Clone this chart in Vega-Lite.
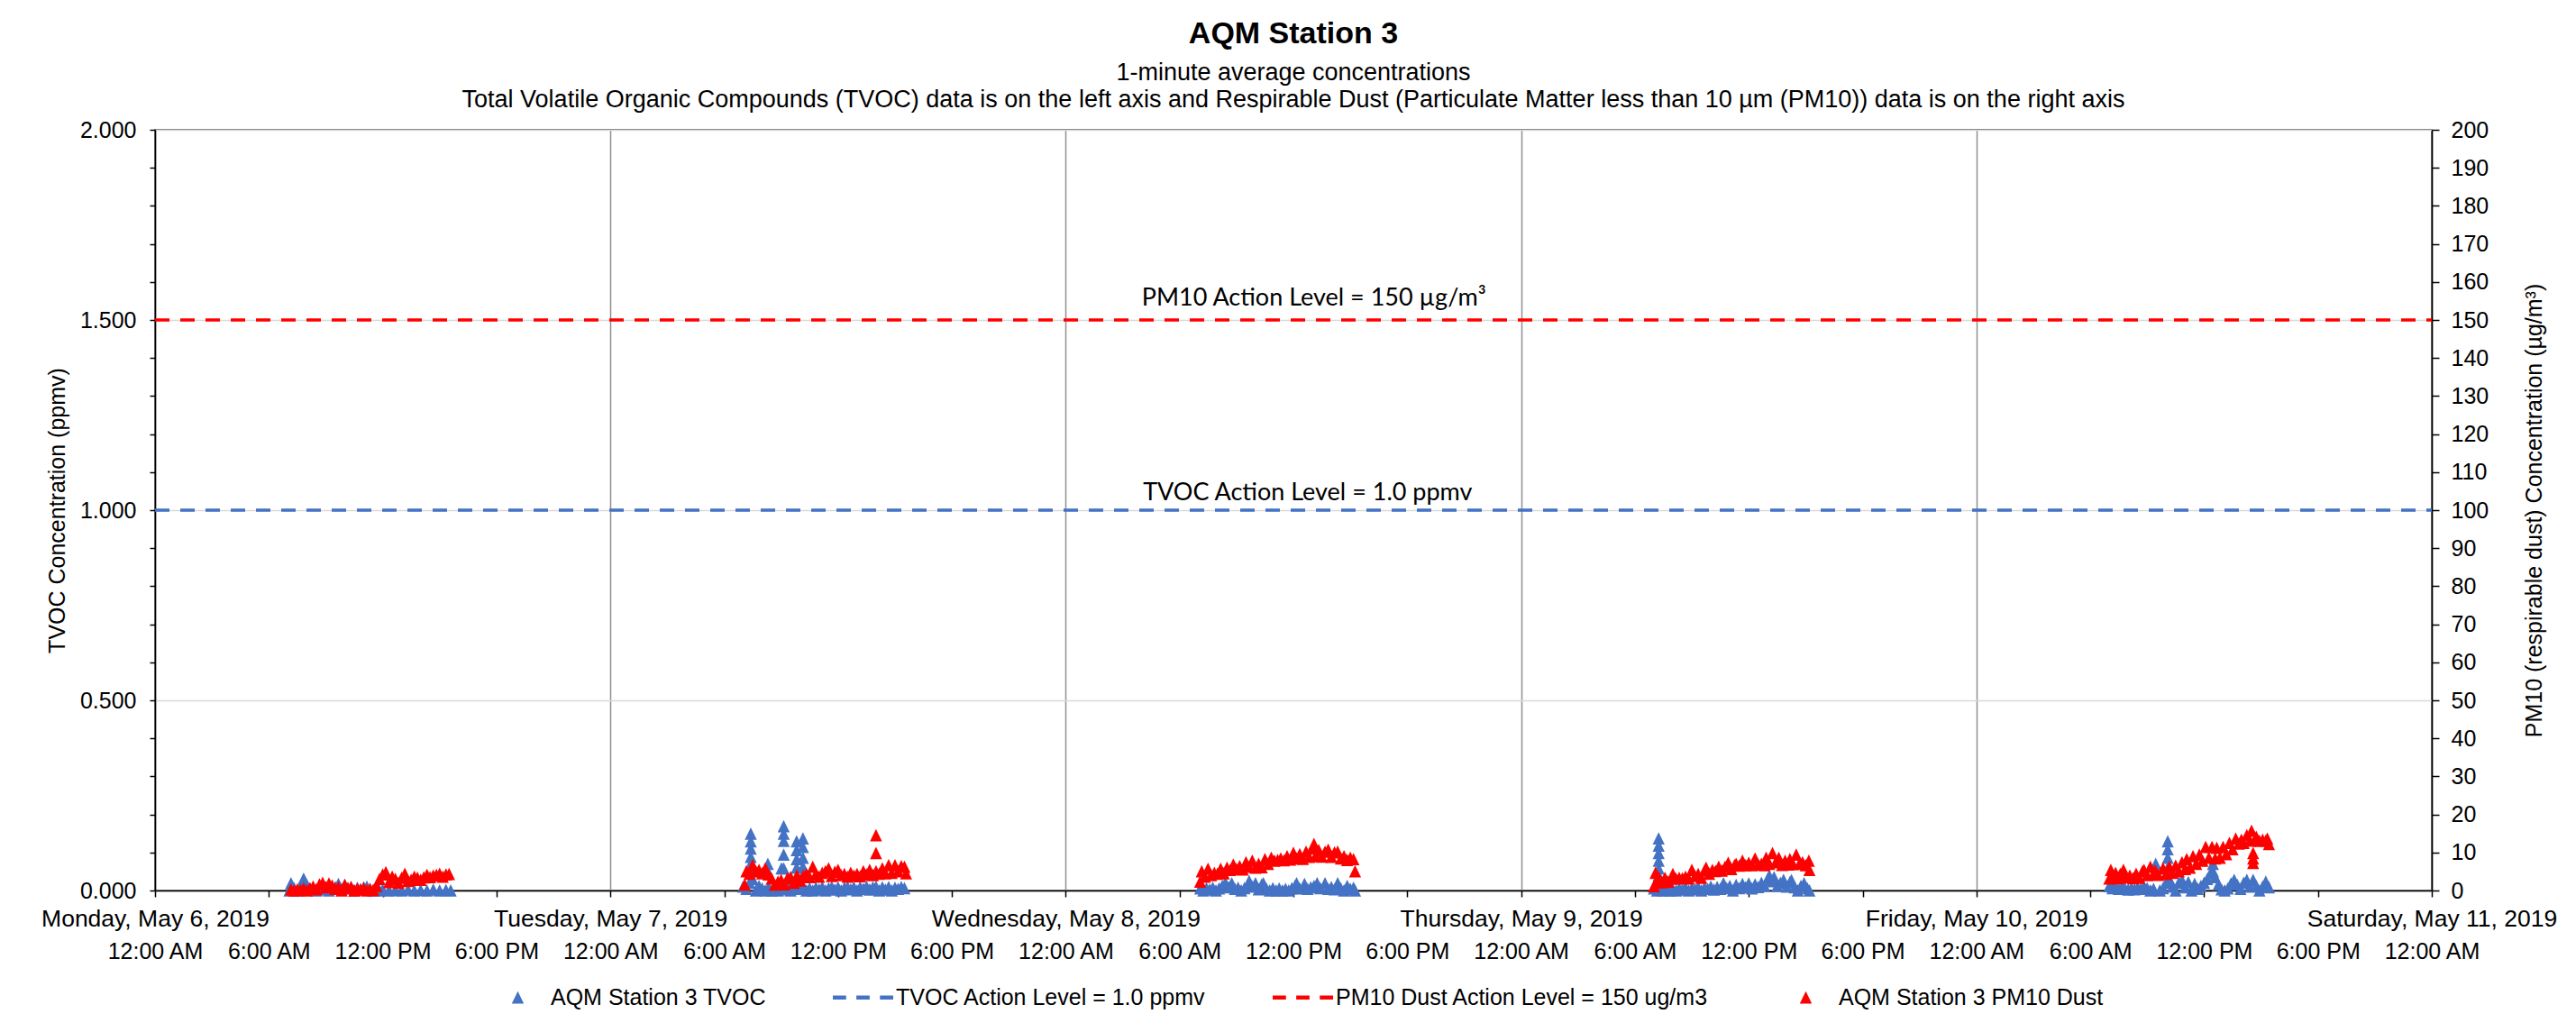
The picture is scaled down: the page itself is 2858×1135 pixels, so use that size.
{
"$schema": "https://vega.github.io/schema/vega-lite/v6.json",
"autosize": {"type": "none"},
"width": 2526,
"height": 844,
"padding": {"left": 172, "top": 144, "right": 160, "bottom": 147},
"background": "white",
"config": {
  "font": "Liberation Sans",
  "view": {"stroke": "#404040", "strokeWidth": 1.5},
  "axis": {"labelFont": "Liberation Sans", "labelFontSize": 25, "labelColor": "black", "labelLimit": 500, "titleFont": "Liberation Sans", "titleFontSize": 25, "titleFontWeight": "normal", "titleColor": "black", "domainColor": "black", "domainWidth": 1.5, "tickColor": "black", "tickWidth": 1.5, "labelFlush": false, "labelOverlap": false, "labelBound": false}
},
"title": {
  "text": "AQM Station 3",
  "subtitle": ["1-minute average concentrations", "Total Volatile Organic Compounds (TVOC) data is on the left axis and Respirable Dust (Particulate Matter less than 10 µm (PM10)) data is on the right axis"],
  "anchor": "middle", "frame": "group", "orient": "top",
  "font": "Liberation Sans", "fontSize": 34, "fontWeight": "bold", "color": "black",
  "subtitleFont": "Liberation Sans", "subtitleFontSize": 27, "subtitleColor": "black", "subtitleLineHeight": 30, "subtitlePadding": 13,
  "offset": 8
},
"datasets": {
  "tvoc": [
    {"t":"2019-05-06T07:05","v":0},{"t":"2019-05-06T07:10","v":0.019},{"t":"2019-05-06T07:20","v":0.006},{"t":"2019-05-06T07:30","v":0},{"t":"2019-05-06T07:40","v":0.012},{"t":"2019-05-06T07:50","v":0.031},{"t":"2019-05-06T08:00","v":0.014},{"t":"2019-05-06T08:10","v":0.004},{"t":"2019-05-06T08:20","v":0.008},{"t":"2019-05-06T08:30","v":0},{"t":"2019-05-06T08:40","v":0.006},{"t":"2019-05-06T08:50","v":0.003},{"t":"2019-05-06T09:00","v":0.008},{"t":"2019-05-06T09:10","v":0},{"t":"2019-05-06T09:20","v":0.005},{"t":"2019-05-06T09:30","v":0.009},{"t":"2019-05-06T09:40","v":0.017},{"t":"2019-05-06T09:50","v":0.004},{"t":"2019-05-06T10:00","v":0.015},{"t":"2019-05-06T10:10","v":0.006},{"t":"2019-05-06T10:20","v":0.009},{"t":"2019-05-06T10:30","v":0},{"t":"2019-05-06T10:40","v":0.007},{"t":"2019-05-06T10:50","v":0.003},{"t":"2019-05-06T11:00","v":0.008},{"t":"2019-05-06T11:10","v":0.01},{"t":"2019-05-06T11:20","v":0.002},{"t":"2019-05-06T11:30","v":0},{"t":"2019-05-06T11:40","v":0.004},{"t":"2019-05-06T11:50","v":0},{"t":"2019-05-06T12:00","v":0.002},{"t":"2019-05-06T12:20","v":0},{"t":"2019-05-06T12:40","v":0.001},{"t":"2019-05-06T13:00","v":0},{"t":"2019-05-06T13:20","v":0.002},{"t":"2019-05-06T13:40","v":0},{"t":"2019-05-06T14:00","v":0.001},{"t":"2019-05-06T14:20","v":0},{"t":"2019-05-06T14:40","v":0.002},{"t":"2019-05-06T15:00","v":0},{"t":"2019-05-06T15:20","v":0.001},{"t":"2019-05-06T15:35","v":0},
    {"t":"2019-05-07T07:00","v":0.01},{"t":"2019-05-07T07:10","v":0.004},{"t":"2019-05-07T07:20","v":0.02},{"t":"2019-05-07T07:30","v":0.03},{"t":"2019-05-07T07:40","v":0},{"t":"2019-05-07T07:50","v":0.012},{"t":"2019-05-07T08:00","v":0.005},{"t":"2019-05-07T08:10","v":0},{"t":"2019-05-07T08:20","v":0.008},{"t":"2019-05-07T08:30","v":0},{"t":"2019-05-07T08:40","v":0.006},{"t":"2019-05-07T08:50","v":0},{"t":"2019-05-07T09:00","v":0.01},{"t":"2019-05-07T09:10","v":0.003},{"t":"2019-05-07T09:20","v":0.02},{"t":"2019-05-07T09:30","v":0},{"t":"2019-05-07T09:40","v":0.008},{"t":"2019-05-07T09:50","v":0.015},{"t":"2019-05-07T10:00","v":0.004},{"t":"2019-05-07T10:10","v":0.01},{"t":"2019-05-07T10:20","v":0},{"t":"2019-05-07T10:30","v":0.006},{"t":"2019-05-07T10:40","v":0},{"t":"2019-05-07T10:50","v":0.007},{"t":"2019-05-07T11:00","v":0.002},{"t":"2019-05-07T11:10","v":0.008},{"t":"2019-05-07T11:20","v":0},{"t":"2019-05-07T11:30","v":0.006},{"t":"2019-05-07T11:40","v":0.009},{"t":"2019-05-07T11:50","v":0.002},{"t":"2019-05-07T12:00","v":0.008},{"t":"2019-05-07T12:10","v":0},{"t":"2019-05-07T12:20","v":0.007},{"t":"2019-05-07T12:30","v":0.009},{"t":"2019-05-07T12:40","v":0.003},{"t":"2019-05-07T12:50","v":0.008},{"t":"2019-05-07T13:00","v":0},{"t":"2019-05-07T13:10","v":0.009},{"t":"2019-05-07T13:20","v":0.004},{"t":"2019-05-07T13:30","v":0.01},{"t":"2019-05-07T13:40","v":0.002},{"t":"2019-05-07T13:50","v":0.008},{"t":"2019-05-07T14:00","v":0.01},{"t":"2019-05-07T14:10","v":0},{"t":"2019-05-07T14:20","v":0.008},{"t":"2019-05-07T14:30","v":0.002},{"t":"2019-05-07T14:40","v":0.009},{"t":"2019-05-07T14:50","v":0},{"t":"2019-05-07T15:00","v":0.007},{"t":"2019-05-07T15:10","v":0.004},{"t":"2019-05-07T15:20","v":0.009},{"t":"2019-05-07T15:30","v":0.006},
    {"t":"2019-05-07T07:24","v":0.149},{"t":"2019-05-07T07:24","v":0.129},{"t":"2019-05-07T07:24","v":0.11},{"t":"2019-05-07T07:24","v":0.088},{"t":"2019-05-07T07:24","v":0.07},{"t":"2019-05-07T07:24","v":0.05},
    {"t":"2019-05-07T08:18","v":0.07},{"t":"2019-05-07T08:18","v":0.05},{"t":"2019-05-07T09:01","v":0.058},
    {"t":"2019-05-07T09:08","v":0.169},{"t":"2019-05-07T09:08","v":0.149},{"t":"2019-05-07T09:08","v":0.13},{"t":"2019-05-07T09:08","v":0.094},{"t":"2019-05-07T09:08","v":0.058},
    {"t":"2019-05-07T09:49","v":0.129},{"t":"2019-05-07T09:49","v":0.106},{"t":"2019-05-07T09:49","v":0.082},{"t":"2019-05-07T09:49","v":0.06},
    {"t":"2019-05-07T10:09","v":0.137},{"t":"2019-05-07T10:09","v":0.114},{"t":"2019-05-07T10:09","v":0.086},{"t":"2019-05-07T10:09","v":0.062},{"t":"2019-05-07T10:09","v":0.04},
    {"t":"2019-05-08T07:05","v":0.005},{"t":"2019-05-08T07:15","v":0},{"t":"2019-05-08T07:25","v":0.006},{"t":"2019-05-08T07:35","v":0.002},{"t":"2019-05-08T07:45","v":0.007},{"t":"2019-05-08T07:55","v":0},{"t":"2019-05-08T08:05","v":0.005},{"t":"2019-05-08T08:15","v":0.012},{"t":"2019-05-08T08:25","v":0.02},{"t":"2019-05-08T08:35","v":0.008},{"t":"2019-05-08T08:45","v":0.019},{"t":"2019-05-08T08:55","v":0.004},{"t":"2019-05-08T09:05","v":0.007},{"t":"2019-05-08T09:15","v":0},{"t":"2019-05-08T09:25","v":0.006},{"t":"2019-05-08T09:35","v":0.012},{"t":"2019-05-08T09:40","v":0.025},{"t":"2019-05-08T09:50","v":0.01},{"t":"2019-05-08T10:00","v":0.019},{"t":"2019-05-08T10:10","v":0.003},{"t":"2019-05-08T10:20","v":0.016},{"t":"2019-05-08T10:25","v":0.019},{"t":"2019-05-08T10:35","v":0.004},{"t":"2019-05-08T10:45","v":0},{"t":"2019-05-08T10:55","v":0.006},{"t":"2019-05-08T11:05","v":0},{"t":"2019-05-08T11:15","v":0.005},{"t":"2019-05-08T11:25","v":0},{"t":"2019-05-08T11:35","v":0.004},{"t":"2019-05-08T11:45","v":0},{"t":"2019-05-08T11:55","v":0.006},{"t":"2019-05-08T12:05","v":0.012},{"t":"2019-05-08T12:10","v":0.019},{"t":"2019-05-08T12:20","v":0.005},{"t":"2019-05-08T12:35","v":0.017},{"t":"2019-05-08T12:45","v":0.004},{"t":"2019-05-08T12:55","v":0.008},{"t":"2019-05-08T13:05","v":0.012},{"t":"2019-05-08T13:15","v":0.019},{"t":"2019-05-08T13:25","v":0.006},{"t":"2019-05-08T13:40","v":0.019},{"t":"2019-05-08T13:50","v":0.004},{"t":"2019-05-08T14:00","v":0.009},{"t":"2019-05-08T14:10","v":0.003},{"t":"2019-05-08T14:20","v":0.019},{"t":"2019-05-08T14:30","v":0.005},{"t":"2019-05-08T14:40","v":0},{"t":"2019-05-08T14:50","v":0.012},{"t":"2019-05-08T15:00","v":0.004},{"t":"2019-05-08T15:10","v":0.007},{"t":"2019-05-08T15:15","v":0},
    {"t":"2019-05-09T07:00","v":0.005},{"t":"2019-05-09T07:10","v":0},{"t":"2019-05-09T07:15","v":0.02},{"t":"2019-05-09T07:20","v":0.006},{"t":"2019-05-09T07:30","v":0},{"t":"2019-05-09T07:40","v":0.004},{"t":"2019-05-09T07:50","v":0},{"t":"2019-05-09T08:00","v":0.003},{"t":"2019-05-09T08:10","v":0},{"t":"2019-05-09T08:20","v":0.005},{"t":"2019-05-09T08:30","v":0.002},{"t":"2019-05-09T08:40","v":0.007},{"t":"2019-05-09T08:50","v":0},{"t":"2019-05-09T09:00","v":0.006},{"t":"2019-05-09T09:10","v":0.003},{"t":"2019-05-09T09:20","v":0.008},{"t":"2019-05-09T09:30","v":0},{"t":"2019-05-09T09:40","v":0.007},{"t":"2019-05-09T09:50","v":0.004},{"t":"2019-05-09T10:00","v":0.01},{"t":"2019-05-09T10:10","v":0.002},{"t":"2019-05-09T10:20","v":0.009},{"t":"2019-05-09T10:30","v":0.004},{"t":"2019-05-09T10:40","v":0.019},{"t":"2019-05-09T10:50","v":0.006},{"t":"2019-05-09T11:00","v":0.012},{"t":"2019-05-09T11:10","v":0},{"t":"2019-05-09T11:20","v":0.015},{"t":"2019-05-09T11:30","v":0.006},{"t":"2019-05-09T11:40","v":0.017},{"t":"2019-05-09T11:50","v":0.008},{"t":"2019-05-09T12:00","v":0.018},{"t":"2019-05-09T12:10","v":0.005},{"t":"2019-05-09T12:20","v":0.016},{"t":"2019-05-09T12:30","v":0.009},{"t":"2019-05-09T12:40","v":0.02},{"t":"2019-05-09T12:50","v":0.012},{"t":"2019-05-09T13:00","v":0.03},{"t":"2019-05-09T13:05","v":0.039},{"t":"2019-05-09T13:15","v":0.024},{"t":"2019-05-09T13:20","v":0.035},{"t":"2019-05-09T13:30","v":0.012},{"t":"2019-05-09T13:40","v":0.02},{"t":"2019-05-09T13:50","v":0.028},{"t":"2019-05-09T14:00","v":0.01},{"t":"2019-05-09T14:10","v":0.022},{"t":"2019-05-09T14:15","v":0.027},{"t":"2019-05-09T14:25","v":0.008},{"t":"2019-05-09T14:35","v":0},{"t":"2019-05-09T14:45","v":0.012},{"t":"2019-05-09T14:55","v":0.019},{"t":"2019-05-09T15:05","v":0.006},{"t":"2019-05-09T15:12","v":0},
    {"t":"2019-05-09T07:15","v":0.137},{"t":"2019-05-09T07:15","v":0.118},{"t":"2019-05-09T07:15","v":0.098},{"t":"2019-05-09T07:15","v":0.078},{"t":"2019-05-09T07:15","v":0.058},{"t":"2019-05-09T07:15","v":0.04},
    {"t":"2019-05-10T07:00","v":0.011},{"t":"2019-05-10T07:10","v":0.006},{"t":"2019-05-10T07:20","v":0.01},{"t":"2019-05-10T07:30","v":0.004},{"t":"2019-05-10T07:40","v":0.008},{"t":"2019-05-10T07:50","v":0.005},{"t":"2019-05-10T08:00","v":0.002},{"t":"2019-05-10T08:10","v":0.006},{"t":"2019-05-10T08:20","v":0.003},{"t":"2019-05-10T08:30","v":0.007},{"t":"2019-05-10T08:40","v":0.004},{"t":"2019-05-10T08:50","v":0.01},{"t":"2019-05-10T09:00","v":0.006},{"t":"2019-05-10T09:10","v":0},{"t":"2019-05-10T09:20","v":0.004},{"t":"2019-05-10T09:27","v":0.07},{"t":"2019-05-10T09:27","v":0.05},{"t":"2019-05-10T09:40","v":0},{"t":"2019-05-10T09:50","v":0.006},{"t":"2019-05-10T10:00","v":0.02},{"t":"2019-05-10T10:05","v":0.129},{"t":"2019-05-10T10:05","v":0.108},{"t":"2019-05-10T10:05","v":0.086},{"t":"2019-05-10T10:05","v":0.06},{"t":"2019-05-10T10:10","v":0.03},{"t":"2019-05-10T10:20","v":0.01},{"t":"2019-05-10T10:30","v":0},{"t":"2019-05-10T10:40","v":0.02},{"t":"2019-05-10T10:50","v":0.027},{"t":"2019-05-10T11:00","v":0.008},{"t":"2019-05-10T11:10","v":0.022},{"t":"2019-05-10T11:20","v":0},{"t":"2019-05-10T11:30","v":0.017},{"t":"2019-05-10T11:40","v":0.004},{"t":"2019-05-10T11:50","v":0.012},{"t":"2019-05-10T12:00","v":0.02},{"t":"2019-05-10T12:10","v":0.03},{"t":"2019-05-10T12:20","v":0.045},{"t":"2019-05-10T12:28","v":0.07},{"t":"2019-05-10T12:28","v":0.05},{"t":"2019-05-10T12:35","v":0.035},{"t":"2019-05-10T12:45","v":0.015},{"t":"2019-05-10T12:55","v":0.003},{"t":"2019-05-10T13:05","v":0},{"t":"2019-05-10T13:15","v":0.005},{"t":"2019-05-10T13:25","v":0.018},{"t":"2019-05-10T13:35","v":0.028},{"t":"2019-05-10T13:45","v":0.015},{"t":"2019-05-10T13:55","v":0.004},{"t":"2019-05-10T14:05","v":0.02},{"t":"2019-05-10T14:15","v":0.028},{"t":"2019-05-10T14:25","v":0.01},{"t":"2019-05-10T14:35","v":0.028},{"t":"2019-05-10T14:45","v":0.012},{"t":"2019-05-10T14:55","v":0},{"t":"2019-05-10T15:05","v":0.01},{"t":"2019-05-10T15:15","v":0.023},{"t":"2019-05-10T15:25","v":0.008}
  ],
  "pm": [
    {"t":"2019-05-06T07:10","v":0.3},{"t":"2019-05-06T07:20","v":0},{"t":"2019-05-06T07:30","v":0.2},{"t":"2019-05-06T07:40","v":0.1},{"t":"2019-05-06T07:50","v":0.5},{"t":"2019-05-06T08:00","v":0},{"t":"2019-05-06T08:10","v":0.6},{"t":"2019-05-06T08:20","v":1.0},{"t":"2019-05-06T08:30","v":0.3},{"t":"2019-05-06T08:40","v":1.6},{"t":"2019-05-06T08:50","v":2.0},{"t":"2019-05-06T09:00","v":0.8},{"t":"2019-05-06T09:10","v":1.8},{"t":"2019-05-06T09:20","v":1.3},{"t":"2019-05-06T09:30","v":0.4},{"t":"2019-05-06T09:40","v":0.9},{"t":"2019-05-06T09:50","v":0},{"t":"2019-05-06T10:00","v":1.4},{"t":"2019-05-06T10:10","v":0.6},{"t":"2019-05-06T10:20","v":0.9},{"t":"2019-05-06T10:30","v":0},{"t":"2019-05-06T10:40","v":0.4},{"t":"2019-05-06T10:50","v":0.2},{"t":"2019-05-06T11:00","v":0.6},{"t":"2019-05-06T11:10","v":0},{"t":"2019-05-06T11:20","v":0.4},{"t":"2019-05-06T11:30","v":0.1},{"t":"2019-05-06T11:40","v":1.2},{"t":"2019-05-06T11:50","v":3.0},{"t":"2019-05-06T12:00","v":4.2},{"t":"2019-05-06T12:10","v":4.8},{"t":"2019-05-06T12:20","v":2.2},{"t":"2019-05-06T12:30","v":3.6},{"t":"2019-05-06T12:40","v":3.0},{"t":"2019-05-06T12:50","v":2.0},{"t":"2019-05-06T13:00","v":3.3},{"t":"2019-05-06T13:10","v":4.4},{"t":"2019-05-06T13:20","v":2.5},{"t":"2019-05-06T13:30","v":2.8},{"t":"2019-05-06T13:40","v":3.6},{"t":"2019-05-06T13:50","v":3.3},{"t":"2019-05-06T14:00","v":2.8},{"t":"2019-05-06T14:10","v":3.4},{"t":"2019-05-06T14:20","v":4.1},{"t":"2019-05-06T14:30","v":3.5},{"t":"2019-05-06T14:40","v":3.9},{"t":"2019-05-06T14:50","v":4.1},{"t":"2019-05-06T15:00","v":4.4},{"t":"2019-05-06T15:10","v":3.6},{"t":"2019-05-06T15:20","v":4.2},{"t":"2019-05-06T15:30","v":4.3},
    {"t":"2019-05-07T07:05","v":1.5},{"t":"2019-05-07T07:10","v":5.0},{"t":"2019-05-07T07:20","v":4.4},{"t":"2019-05-07T07:30","v":6.6},{"t":"2019-05-07T07:40","v":5.0},{"t":"2019-05-07T07:50","v":5.4},{"t":"2019-05-07T08:00","v":4.5},{"t":"2019-05-07T08:10","v":5.8},{"t":"2019-05-07T08:20","v":4.2},{"t":"2019-05-07T08:30","v":3.1},{"t":"2019-05-07T08:40","v":1.5},{"t":"2019-05-07T08:50","v":2.3},{"t":"2019-05-07T09:00","v":2.7},{"t":"2019-05-07T09:10","v":1.6},{"t":"2019-05-07T09:20","v":3.2},{"t":"2019-05-07T09:30","v":3.5},{"t":"2019-05-07T09:40","v":2.0},{"t":"2019-05-07T09:50","v":3.9},{"t":"2019-05-07T10:00","v":2.6},{"t":"2019-05-07T10:10","v":3.8},{"t":"2019-05-07T10:20","v":4.3},{"t":"2019-05-07T10:30","v":3.5},{"t":"2019-05-07T10:40","v":6.2},{"t":"2019-05-07T10:50","v":4.3},{"t":"2019-05-07T11:00","v":3.6},{"t":"2019-05-07T11:10","v":4.6},{"t":"2019-05-07T11:20","v":5.0},{"t":"2019-05-07T11:30","v":5.8},{"t":"2019-05-07T11:40","v":3.8},{"t":"2019-05-07T11:50","v":4.9},{"t":"2019-05-07T12:00","v":5.4},{"t":"2019-05-07T12:10","v":4.0},{"t":"2019-05-07T12:20","v":4.3},{"t":"2019-05-07T12:30","v":3.6},{"t":"2019-05-07T12:40","v":4.6},{"t":"2019-05-07T12:50","v":3.9},{"t":"2019-05-07T13:00","v":4.3},{"t":"2019-05-07T13:10","v":3.7},{"t":"2019-05-07T13:20","v":5.0},{"t":"2019-05-07T13:30","v":4.2},{"t":"2019-05-07T13:40","v":5.4},{"t":"2019-05-07T13:50","v":4.0},{"t":"2019-05-07T14:00","v":5.0},{"t":"2019-05-07T14:10","v":4.4},{"t":"2019-05-07T14:20","v":5.8},{"t":"2019-05-07T14:30","v":4.5},{"t":"2019-05-07T14:40","v":6.6},{"t":"2019-05-07T14:50","v":4.6},{"t":"2019-05-07T15:00","v":6.6},{"t":"2019-05-07T15:10","v":5.0},{"t":"2019-05-07T15:20","v":6.4},{"t":"2019-05-07T15:30","v":6.2},{"t":"2019-05-07T15:35","v":4.5},
    {"t":"2019-05-07T14:00","v":14.5},{"t":"2019-05-07T14:00","v":9.8},
    {"t":"2019-05-08T07:05","v":2.3},{"t":"2019-05-08T07:10","v":5.0},{"t":"2019-05-08T07:20","v":3.6},{"t":"2019-05-08T07:30","v":5.7},{"t":"2019-05-08T07:40","v":4.0},{"t":"2019-05-08T07:50","v":4.6},{"t":"2019-05-08T08:00","v":4.4},{"t":"2019-05-08T08:10","v":5.7},{"t":"2019-05-08T08:20","v":4.5},{"t":"2019-05-08T08:30","v":6.0},{"t":"2019-05-08T08:40","v":5.4},{"t":"2019-05-08T08:50","v":6.8},{"t":"2019-05-08T09:00","v":5.6},{"t":"2019-05-08T09:10","v":6.4},{"t":"2019-05-08T09:20","v":5.5},{"t":"2019-05-08T09:30","v":7.4},{"t":"2019-05-08T09:40","v":6.2},{"t":"2019-05-08T09:50","v":7.8},{"t":"2019-05-08T10:00","v":6.0},{"t":"2019-05-08T10:10","v":7.0},{"t":"2019-05-08T10:20","v":6.1},{"t":"2019-05-08T10:30","v":8.2},{"t":"2019-05-08T10:40","v":7.0},{"t":"2019-05-08T10:50","v":8.6},{"t":"2019-05-08T11:00","v":7.8},{"t":"2019-05-08T11:10","v":8.0},{"t":"2019-05-08T11:20","v":8.4},{"t":"2019-05-08T11:30","v":7.9},{"t":"2019-05-08T11:40","v":9.0},{"t":"2019-05-08T11:50","v":8.1},{"t":"2019-05-08T12:00","v":9.9},{"t":"2019-05-08T12:10","v":8.4},{"t":"2019-05-08T12:20","v":9.5},{"t":"2019-05-08T12:30","v":8.3},{"t":"2019-05-08T12:40","v":10.2},{"t":"2019-05-08T12:50","v":8.8},{"t":"2019-05-08T13:00","v":11.0},{"t":"2019-05-08T13:05","v":12.2},{"t":"2019-05-08T13:10","v":9.0},{"t":"2019-05-08T13:20","v":10.6},{"t":"2019-05-08T13:30","v":8.9},{"t":"2019-05-08T13:40","v":10.2},{"t":"2019-05-08T13:50","v":10.7},{"t":"2019-05-08T14:00","v":8.8},{"t":"2019-05-08T14:10","v":10.0},{"t":"2019-05-08T14:20","v":10.2},{"t":"2019-05-08T14:30","v":8.4},{"t":"2019-05-08T14:40","v":9.0},{"t":"2019-05-08T14:50","v":8.0},{"t":"2019-05-08T15:00","v":8.6},{"t":"2019-05-08T15:10","v":8.2},{"t":"2019-05-08T15:15","v":5.0},
    {"t":"2019-05-09T07:00","v":1.1},{"t":"2019-05-09T07:05","v":4.6},{"t":"2019-05-09T07:10","v":2.2},{"t":"2019-05-09T07:15","v":3.5},{"t":"2019-05-09T07:25","v":2.1},{"t":"2019-05-09T07:35","v":3.3},{"t":"2019-05-09T07:45","v":2.3},{"t":"2019-05-09T07:55","v":3.1},{"t":"2019-05-09T08:00","v":4.3},{"t":"2019-05-09T08:10","v":3.1},{"t":"2019-05-09T08:20","v":3.3},{"t":"2019-05-09T08:30","v":3.2},{"t":"2019-05-09T08:40","v":3.6},{"t":"2019-05-09T08:50","v":3.1},{"t":"2019-05-09T09:00","v":5.4},{"t":"2019-05-09T09:10","v":3.8},{"t":"2019-05-09T09:20","v":4.3},{"t":"2019-05-09T09:30","v":3.3},{"t":"2019-05-09T09:40","v":5.2},{"t":"2019-05-09T09:45","v":6.0},{"t":"2019-05-09T09:55","v":4.4},{"t":"2019-05-09T10:05","v":5.4},{"t":"2019-05-09T10:15","v":5.1},{"t":"2019-05-09T10:25","v":6.2},{"t":"2019-05-09T10:35","v":5.2},{"t":"2019-05-09T10:45","v":6.2},{"t":"2019-05-09T10:55","v":7.3},{"t":"2019-05-09T11:05","v":5.6},{"t":"2019-05-09T11:15","v":6.6},{"t":"2019-05-09T11:20","v":7.0},{"t":"2019-05-09T11:30","v":6.5},{"t":"2019-05-09T11:40","v":7.8},{"t":"2019-05-09T11:50","v":6.6},{"t":"2019-05-09T12:00","v":7.3},{"t":"2019-05-09T12:10","v":6.6},{"t":"2019-05-09T12:20","v":8.4},{"t":"2019-05-09T12:30","v":6.8},{"t":"2019-05-09T12:40","v":7.0},{"t":"2019-05-09T12:50","v":6.6},{"t":"2019-05-09T12:55","v":8.6},{"t":"2019-05-09T13:05","v":7.0},{"t":"2019-05-09T13:15","v":9.8},{"t":"2019-05-09T13:25","v":7.4},{"t":"2019-05-09T13:35","v":8.6},{"t":"2019-05-09T13:45","v":6.7},{"t":"2019-05-09T13:55","v":7.8},{"t":"2019-05-09T14:05","v":6.8},{"t":"2019-05-09T14:10","v":8.2},{"t":"2019-05-09T14:20","v":6.9},{"t":"2019-05-09T14:30","v":9.4},{"t":"2019-05-09T14:40","v":7.0},{"t":"2019-05-09T14:50","v":7.4},{"t":"2019-05-09T15:00","v":6.6},{"t":"2019-05-09T15:10","v":7.8},{"t":"2019-05-09T15:12","v":5.4},
    {"t":"2019-05-10T07:00","v":3.1},{"t":"2019-05-10T07:05","v":5.4},{"t":"2019-05-10T07:10","v":3.4},{"t":"2019-05-10T07:20","v":4.6},{"t":"2019-05-10T07:30","v":3.2},{"t":"2019-05-10T07:35","v":4.3},{"t":"2019-05-10T07:45","v":5.4},{"t":"2019-05-10T07:55","v":3.4},{"t":"2019-05-10T08:05","v":3.9},{"t":"2019-05-10T08:15","v":3.2},{"t":"2019-05-10T08:25","v":4.4},{"t":"2019-05-10T08:35","v":3.3},{"t":"2019-05-10T08:45","v":5.0},{"t":"2019-05-10T08:50","v":5.4},{"t":"2019-05-10T09:00","v":4.0},{"t":"2019-05-10T09:10","v":6.2},{"t":"2019-05-10T09:20","v":4.2},{"t":"2019-05-10T09:25","v":5.2},{"t":"2019-05-10T09:35","v":4.1},{"t":"2019-05-10T09:50","v":5.8},{"t":"2019-05-10T10:00","v":4.3},{"t":"2019-05-10T10:10","v":6.2},{"t":"2019-05-10T10:20","v":4.6},{"t":"2019-05-10T10:30","v":6.5},{"t":"2019-05-10T10:40","v":5.0},{"t":"2019-05-10T10:50","v":7.4},{"t":"2019-05-10T11:00","v":5.6},{"t":"2019-05-10T11:05","v":8.2},{"t":"2019-05-10T11:15","v":6.0},{"t":"2019-05-10T11:25","v":9.0},{"t":"2019-05-10T11:35","v":7.0},{"t":"2019-05-10T11:45","v":9.4},{"t":"2019-05-10T11:55","v":7.8},{"t":"2019-05-10T12:05","v":11.4},{"t":"2019-05-10T12:15","v":8.6},{"t":"2019-05-10T12:25","v":11.4},{"t":"2019-05-10T12:35","v":8.4},{"t":"2019-05-10T12:40","v":11.2},{"t":"2019-05-10T12:50","v":8.6},{"t":"2019-05-10T13:00","v":11.4},{"t":"2019-05-10T13:10","v":9.5},{"t":"2019-05-10T13:20","v":12.5},{"t":"2019-05-10T13:30","v":10.8},{"t":"2019-05-10T13:40","v":13.6},{"t":"2019-05-10T13:50","v":12.3},{"t":"2019-05-10T13:58","v":13.3},{"t":"2019-05-10T14:05","v":12.5},{"t":"2019-05-10T14:15","v":14.5},{"t":"2019-05-10T14:25","v":13.1},{"t":"2019-05-10T14:30","v":15.7},{"t":"2019-05-10T14:40","v":13.2},{"t":"2019-05-10T14:45","v":14.1},{"t":"2019-05-10T14:55","v":13.0},{"t":"2019-05-10T15:05","v":13.3},{"t":"2019-05-10T15:15","v":13.1},{"t":"2019-05-10T15:20","v":13.6},{"t":"2019-05-10T15:25","v":12.2},
    {"t":"2019-05-10T14:35","v":9.8},{"t":"2019-05-10T14:35","v":8.4},{"t":"2019-05-10T14:35","v":7.2}
  ]
},
"layer": [
  {
    "encoding": {
      "x": {"field": "t", "type": "temporal",
        "scale": {"domain": [{"year": 2019, "month": 5, "date": 6, "hours": 0}, {"year": 2019, "month": 5, "date": 11, "hours": 0}]},
        "axis": {
          "orient": "bottom",
          "title": null,
          "values": [
            {"year":2019,"month":5,"date":6,"hours":0},{"year":2019,"month":5,"date":6,"hours":6},{"year":2019,"month":5,"date":6,"hours":12},{"year":2019,"month":5,"date":6,"hours":18},
            {"year":2019,"month":5,"date":7,"hours":0},{"year":2019,"month":5,"date":7,"hours":6},{"year":2019,"month":5,"date":7,"hours":12},{"year":2019,"month":5,"date":7,"hours":18},
            {"year":2019,"month":5,"date":8,"hours":0},{"year":2019,"month":5,"date":8,"hours":6},{"year":2019,"month":5,"date":8,"hours":12},{"year":2019,"month":5,"date":8,"hours":18},
            {"year":2019,"month":5,"date":9,"hours":0},{"year":2019,"month":5,"date":9,"hours":6},{"year":2019,"month":5,"date":9,"hours":12},{"year":2019,"month":5,"date":9,"hours":18},
            {"year":2019,"month":5,"date":10,"hours":0},{"year":2019,"month":5,"date":10,"hours":6},{"year":2019,"month":5,"date":10,"hours":12},{"year":2019,"month":5,"date":10,"hours":18},
            {"year":2019,"month":5,"date":11,"hours":0}
          ],
          "labelExpr": "timeFormat(datum.value, '%-I:%M %p')",
          "labelPadding": 48,
          "labelAlign": "center",
          "labelAngle": 0,
          "labelFontSize": 25,
          "tickSize": 7,
          "grid": true,
          "gridColor": {"condition": {"test": "hours(datum.value) == 0", "value": "#8F8F8F"}, "value": "rgba(0,0,0,0)"},
          "gridWidth": 1.5
        }
      },
      "y": {"field": "v", "type": "quantitative",
        "scale": {"domain": [0, 2], "nice": false},
        "axis": {
          "orient": "left",
          "title": "TVOC Concentration (ppmv)",
          "titlePadding": 12,
          "values": [0, 0.1, 0.2, 0.3, 0.4, 0.5, 0.6, 0.7, 0.8, 0.9, 1.0, 1.1, 1.2, 1.3, 1.4, 1.5, 1.6, 1.7, 1.8, 1.9, 2.0],
          "labelExpr": "abs(datum.value*2 - round(datum.value*2)) < 0.001 ? format(datum.value, '.3f') : ''",
          "labelPadding": 15,
          "tickSize": 6,
          "grid": true,
          "gridColor": {"condition": {"test": "abs(datum.value*2 - round(datum.value*2)) < 0.001", "value": "#D9D9D9"}, "value": "rgba(0,0,0,0)"},
          "gridWidth": 1.5
        }
      }
    },
    "layer": [
      {
        "data": {"name": "tvoc"},
        "mark": {"type": "point", "filled": true, "opacity": 1, "size": 4489, "strokeWidth": 0},
        "encoding": {
          "color": {"datum": "AQM Station 3 TVOC", "type": "nominal",
            "scale": {"domain": ["AQM Station 3 TVOC", "TVOC Action Level = 1.0 ppmv", "PM10 Dust Action Level = 150 ug/m3", "AQM Station 3 PM10 Dust"], "range": ["#4472C4", "#4472C4", "#FF0000", "#FF0000"]},
            "legend": {"orient": "none", "legendX": 369, "legendY": 929, "direction": "horizontal", "columns": 4, "title": null, "symbolSize": 4489, "labelFont": "Liberation Sans", "labelFontSize": 25, "labelColor": "black", "labelOffset": 3, "labelLimit": 800, "columnPadding": 74, "symbolOpacity": 1, "symbolStrokeWidth": 0, "padding": 0}
          },
          "shape": {"datum": "AQM Station 3 TVOC", "type": "nominal",
            "scale": {"domain": ["AQM Station 3 TVOC", "TVOC Action Level = 1.0 ppmv", "PM10 Dust Action Level = 150 ug/m3", "AQM Station 3 PM10 Dust"], "range": ["M0,-0.21L0.2,0.2L-0.2,0.2Z", "M-1,-0.065H-0.56V0.065H-1Z M-0.22,-0.065H0.22V0.065H-0.22Z M0.56,-0.065H1V0.065H0.56Z", "M-1,-0.065H-0.56V0.065H-1Z M-0.22,-0.065H0.22V0.065H-0.22Z M0.56,-0.065H1V0.065H0.56Z", "M0,-0.21L0.2,0.2L-0.2,0.2Z"]},
            "legend": {"orient": "none", "legendX": 369, "legendY": 929, "direction": "horizontal", "columns": 4, "title": null, "symbolSize": 4489, "labelFont": "Liberation Sans", "labelFontSize": 25, "labelColor": "black", "labelOffset": 3, "labelLimit": 800, "columnPadding": 74, "symbolOpacity": 1, "symbolStrokeWidth": 0, "padding": 0}
          }
        }
      },
      {
        "data": {"values": [{"t": "2019-05-06T00:00", "t2": "2019-05-11T00:00", "v": 1.0}]},
        "mark": {"type": "rule", "color": "#4472C4", "strokeWidth": 3.5, "strokeDash": [16, 12]},
        "encoding": {"x2": {"field": "t2"}}
      },
      {
        "data": {"values": [{"t": "2019-05-08T12:45", "v": 1.0, "label": "TVOC Action Level = 1.0 ppmv"}]},
        "mark": {"type": "text", "font": "Lato", "fontSize": 27, "color": "black", "align": "center", "baseline": "alphabetic", "dy": -11},
        "encoding": {"text": {"field": "label"}}
      }
    ]
  },
  {
    "encoding": {
      "x": {"field": "t", "type": "temporal",
        "scale": {"domain": [{"year": 2019, "month": 5, "date": 6, "hours": 0}, {"year": 2019, "month": 5, "date": 11, "hours": 0}]},
        "axis": {
          "orient": "bottom",
          "title": null,
          "values": [
            {"year":2019,"month":5,"date":6,"hours":0},{"year":2019,"month":5,"date":7,"hours":0},{"year":2019,"month":5,"date":8,"hours":0},
            {"year":2019,"month":5,"date":9,"hours":0},{"year":2019,"month":5,"date":10,"hours":0},{"year":2019,"month":5,"date":11,"hours":0}
          ],
          "labelExpr": "timeFormat(datum.value, '%A, %B %-d, %Y')",
          "labelFontSize": 26.5,
          "labelPadding": 18,
          "labelAlign": "center",
          "labelAngle": 0,
          "labelLimit": 600,
          "ticks": false,
          "tickSize": 0,
          "domain": false,
          "grid": false
        }
      },
      "y": {"field": "v", "type": "quantitative",
        "scale": {"domain": [0, 200], "nice": false},
        "axis": {
          "orient": "right",
          "title": "PM10 (respirable dust) Concentration (µg/m³)",
          "titleAngle": 270,
          "titlePadding": 64,
          "values": [0, 10, 20, 30, 40, 50, 60, 70, 80, 90, 100, 110, 120, 130, 140, 150, 160, 170, 180, 190, 200],
          "labelPadding": 13,
          "tickSize": 8,
          "grid": false
        }
      }
    },
    "layer": [
      {
        "data": {"values": [{"t": "2019-05-06T00:00", "t2": "2019-05-11T00:00", "v": 150}]},
        "mark": {"type": "rule", "color": "#FF0000", "strokeWidth": 3.5, "strokeDash": [16, 12]},
        "encoding": {"x2": {"field": "t2"}}
      },
      {
        "data": {"values": [{"t": "2019-05-08T13:05", "v": 150, "label": "PM10 Action Level = 150 µg/m³"}]},
        "mark": {"type": "text", "font": "Lato", "fontSize": 27, "color": "black", "align": "center", "baseline": "alphabetic", "dy": -16},
        "encoding": {"text": {"field": "label"}}
      },
      {
        "data": {"name": "pm"},
        "mark": {"type": "point", "filled": true, "opacity": 1, "size": 4489, "strokeWidth": 0},
        "encoding": {
          "color": {"datum": "AQM Station 3 PM10 Dust", "type": "nominal"},
          "shape": {"datum": "AQM Station 3 PM10 Dust", "type": "nominal"}
        }
      }
    ]
  }
],
"resolve": {"scale": {"y": "independent", "x": "independent"}}
}
